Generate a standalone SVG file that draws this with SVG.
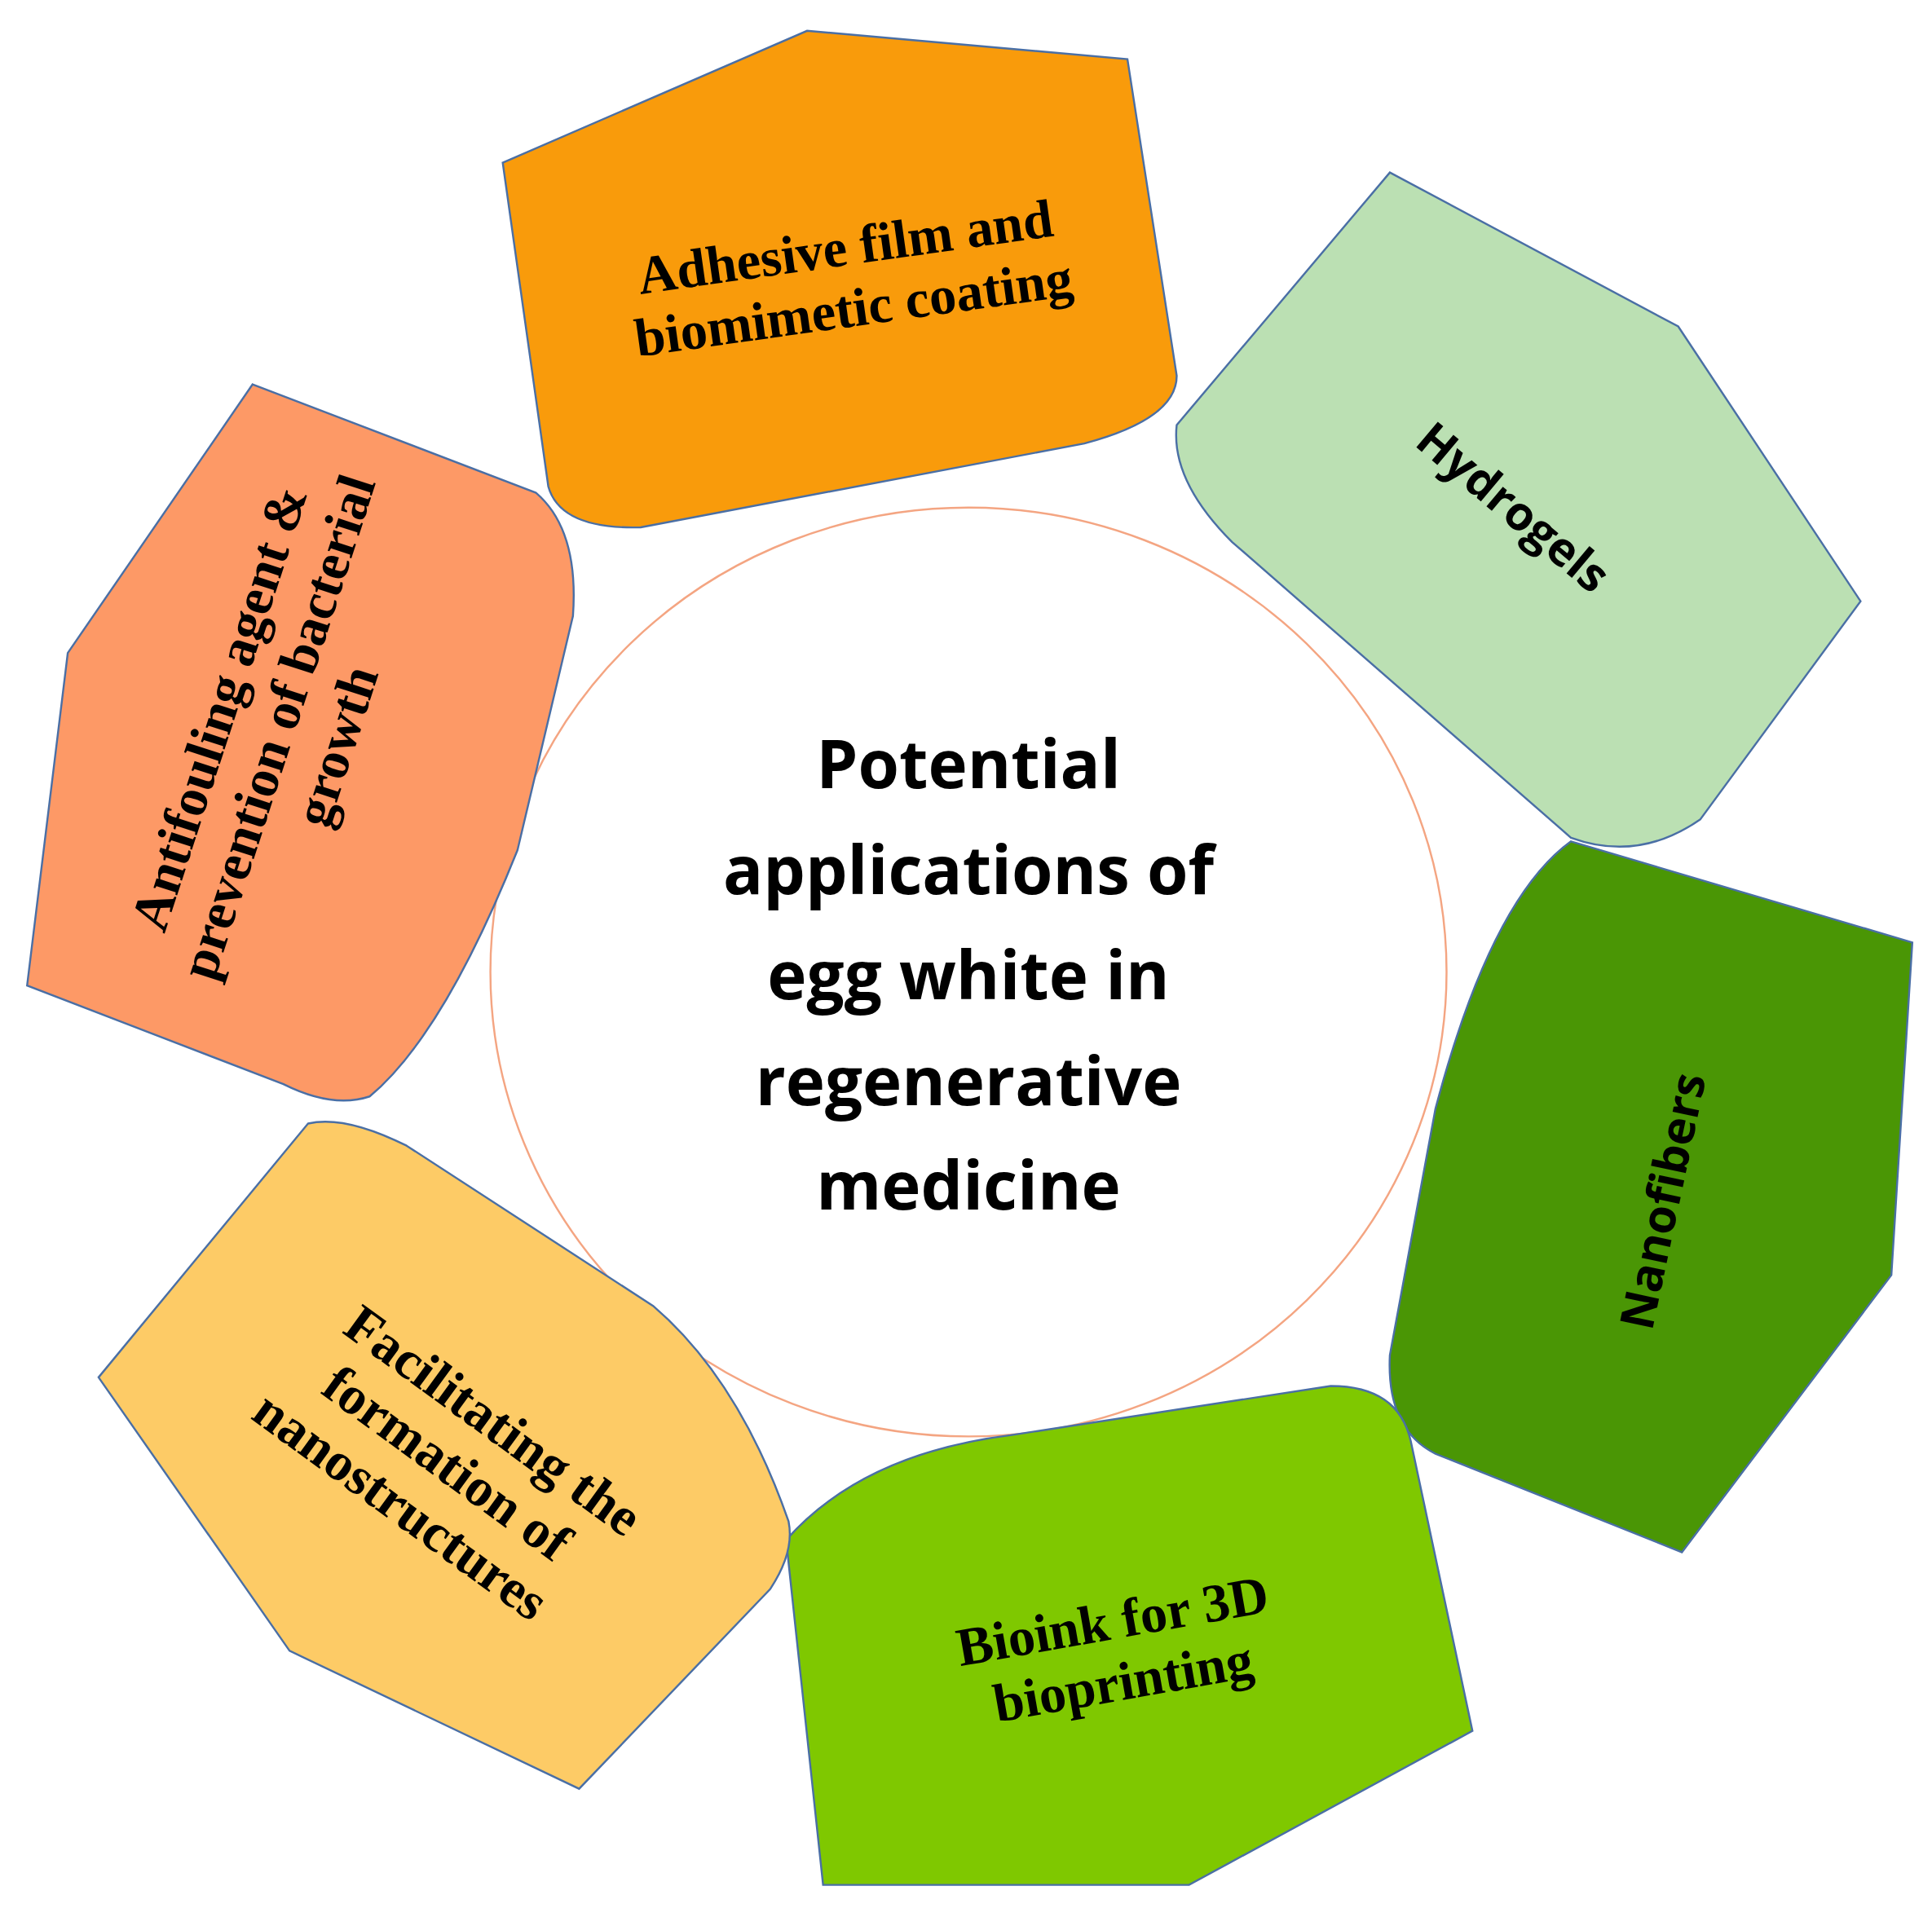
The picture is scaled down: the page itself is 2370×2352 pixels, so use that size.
<svg xmlns="http://www.w3.org/2000/svg" width="2370" height="2352" viewBox="0 0 2370 2352">
<style>
.p{stroke:#4a6fa5;stroke-width:1.6}
.s{font-family:"Liberation Serif",serif;font-weight:bold;font-size:44px;fill:#000;text-anchor:middle}
.a{font-family:"Open Sans","DejaVu Sans",sans-serif;font-weight:bold;font-size:38px;fill:#000;text-anchor:middle}
.c{font-family:"Open Sans","DejaVu Sans",sans-serif;font-weight:bold;font-size:54px;fill:#000;text-anchor:middle}
</style>
<rect width="2370" height="2352" fill="#fff"/>
<g transform="scale(1.5115)">
<g id="center">
<ellipse cx="786" cy="789" rx="388" ry="377" fill="#fff" stroke="#f4a582" stroke-width="1.6"/>
<text class="c" x="786" y="640">Potential</text>
<text class="c" x="786" y="726">applications of</text>
<text class="c" x="786" y="811">egg white in</text>
<text class="c" x="786" y="897">regenerative</text>
<text class="c" x="786" y="982">medicine</text>
</g>
<g id="adhesive">
<path class="p" fill="#f99b0b" d="M408,132 L655,25 L915,48 L955,305 Q955,340 880,360 L520,428 Q455,430 445,395 Z"/>
<g transform="rotate(-8 690 230)">
<text class="s" x="690" y="215">Adhesive film and</text>
<text class="s" x="690" y="265">biomimetic coating</text>
</g>
</g>
<g id="hydrogels">
<path class="p" fill="#bbe0b3" d="M1128,140 L1362,265 L1510,488 L1380,665 Q1330,700 1275,680 L1000,440 Q950,390 955,345 Z"/>
<text class="a" transform="rotate(40 1228 412)" x="1228" y="425">Hydrogels</text>
</g>
<g id="nanofibers">
<path class="p" fill="#4a9605" d="M1275,683 L1552,765 L1535,1035 L1365,1260 L1165,1180 Q1125,1160 1128,1100 L1165,900 Q1210,730 1275,683 Z"/>
<text class="a" transform="rotate(-78 1350 975)" x="1350" y="988">Nanofibers</text>
</g>
<g id="bioink">
<path class="p" fill="#7fc800" d="M638,1250 Q700,1180 820,1165 L1080,1125 Q1135,1125 1145,1170 L1195,1405 L965,1530 L668,1530 Z"/>
<g transform="rotate(-10 908 1345)">
<text class="s" x="908" y="1330">Bioink for 3D</text>
<text class="s" x="908" y="1380">bioprinting</text>
</g>
</g>
<g id="facilitating">
<path class="p" fill="#fdcb66" d="M80,1118 L250,912 Q280,905 330,930 L530,1060 Q600,1120 640,1235 Q645,1260 625,1290 L470,1452 L235,1340 Z"/>
<g transform="rotate(36 355 1190)">
<text class="s" x="370" y="1148">Facilitating the</text>
<text class="s" x="360" y="1198">formation of</text>
<text class="s" x="350" y="1248">nanostructures</text>
</g>
</g>
<g id="antifouling">
<path class="p" fill="#fd9966" d="M205,312 L435,400 Q470,430 465,500 L420,690 Q360,840 300,890 Q270,900 230,880 L22,800 L55,530 Z"/>
<g transform="rotate(-72 225 590)">
<text class="s" x="225" y="555">Antifouling agent &amp;</text>
<text class="s" x="225" y="605">prevention of bacterial</text>
<text class="s" x="225" y="655">growth</text>
</g>
</g>
<g id="connectors"/>
</g>
</svg>
